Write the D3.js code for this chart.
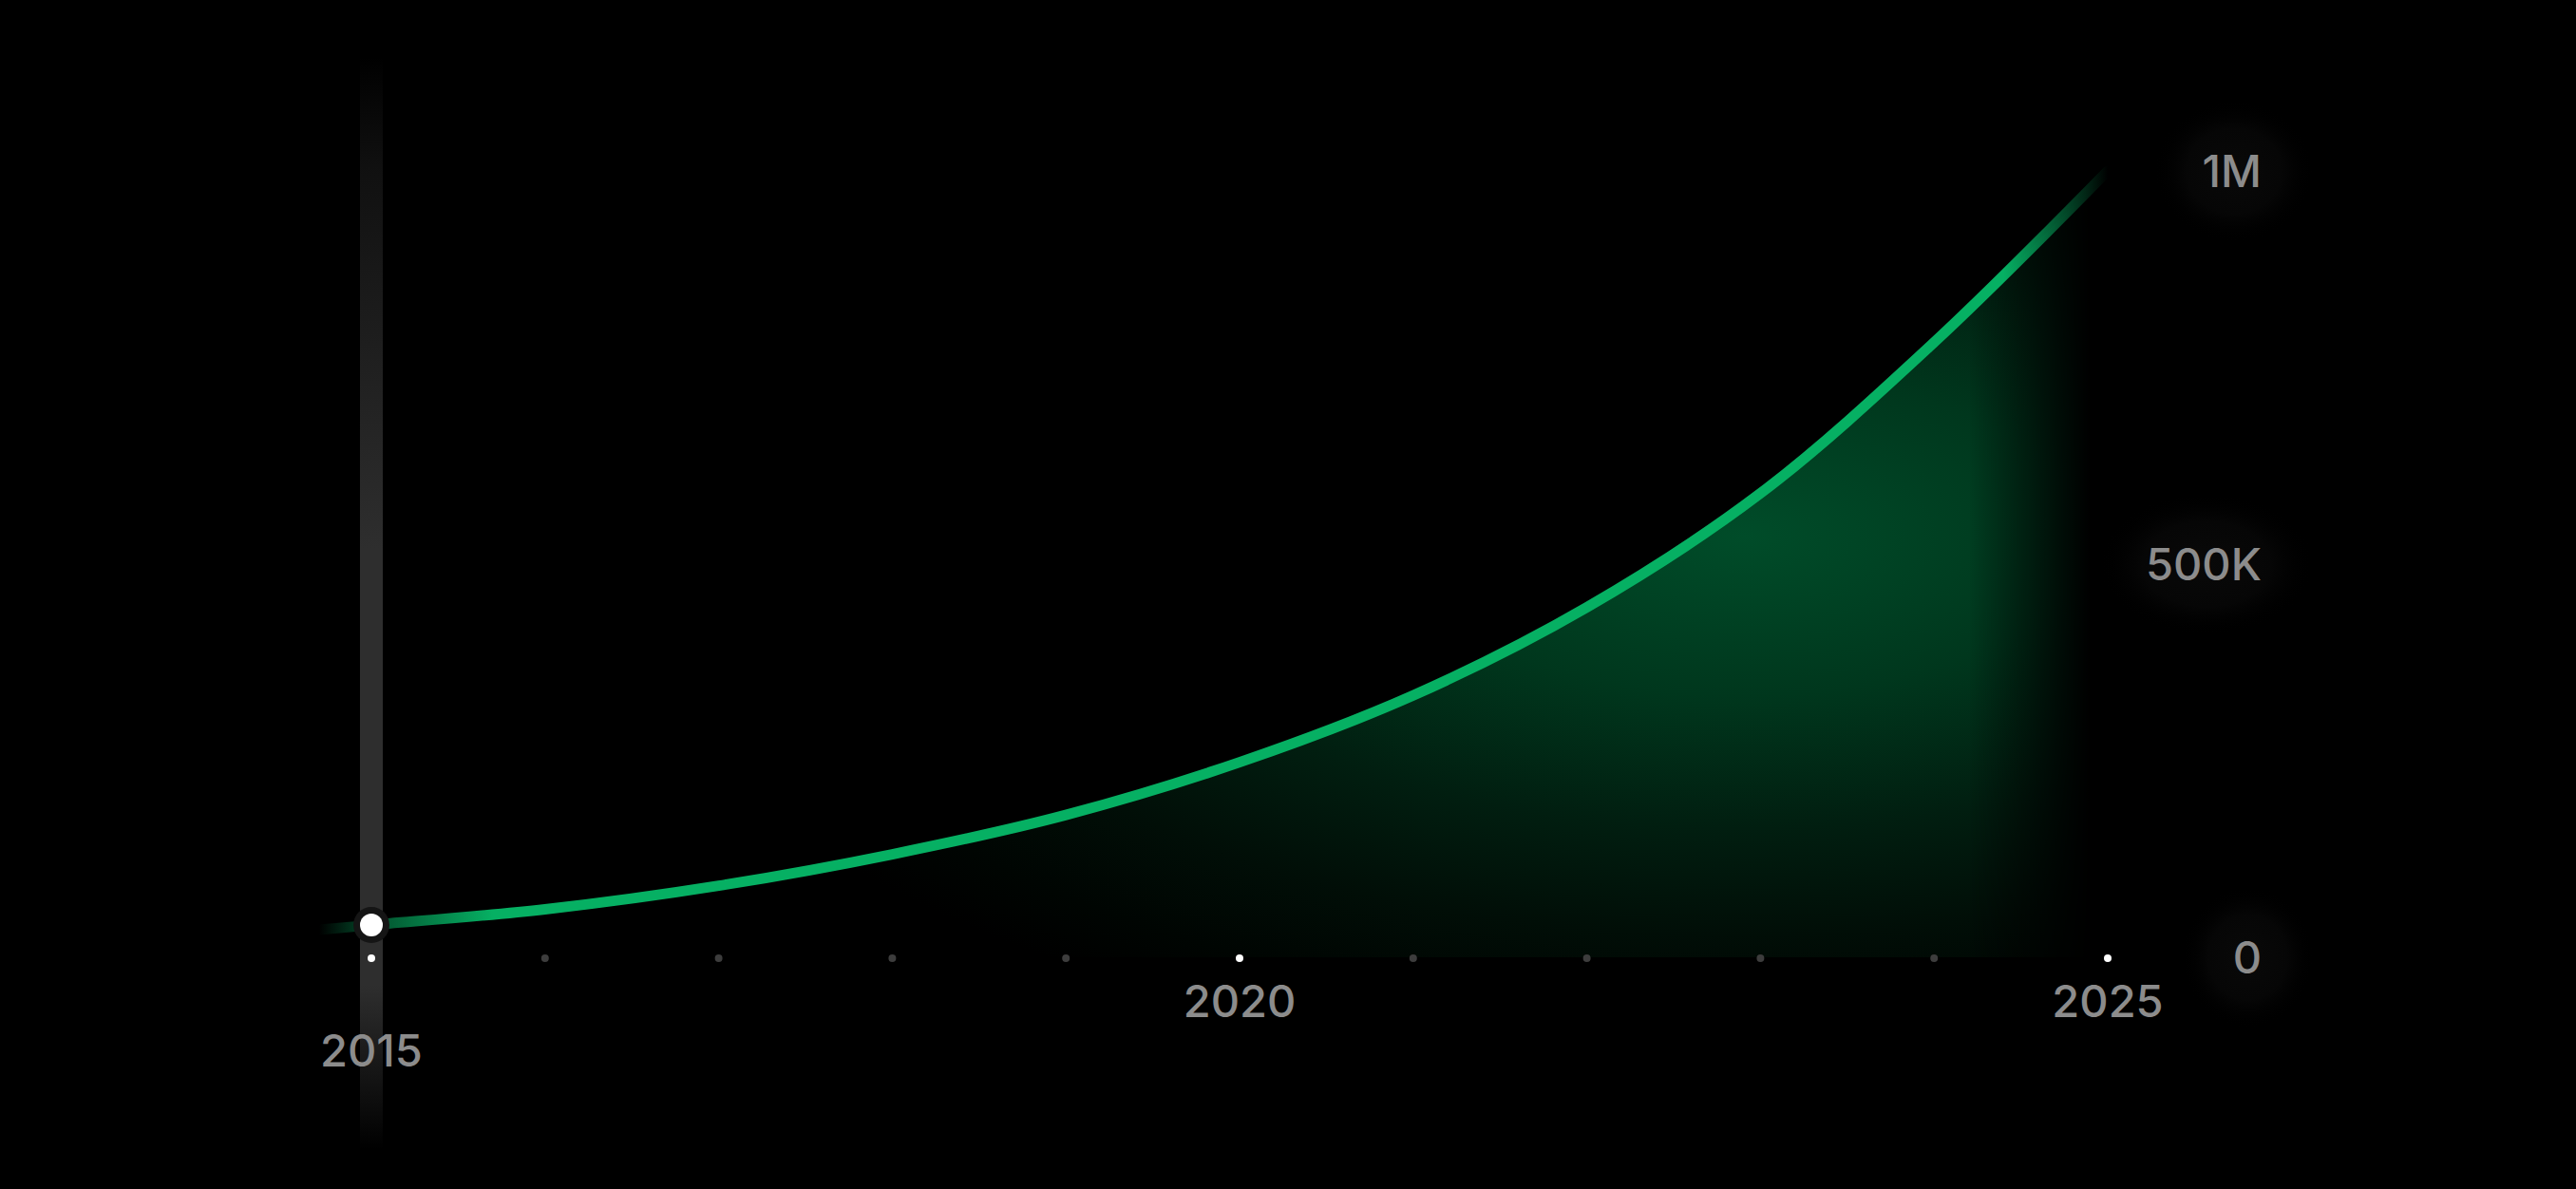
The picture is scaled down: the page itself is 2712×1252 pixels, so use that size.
<!DOCTYPE html>
<html>
<head>
<meta charset="utf-8">
<script src="https://cdn.jsdelivr.net/npm/d3@7"></script>
<style>
  html, body { margin: 0; padding: 0; background: #000; }
  svg { display: block; }
  text { font-family: Inter, "Noto Sans", sans-serif; font-weight: 500; }
</style>
</head>
<body>
<div id="chart"></div>
<script>
// data
const years = [2015, 2016, 2017, 2018, 2019, 2020, 2021, 2022, 2023, 2024, 2025];
const users = [41000, 61000, 91000, 131000, 181000, 248000, 333000, 445000, 590000, 782000, 1000000];
const leadYear = 2014.7, leadValue = 35000;   // line starts a bit before 2015, faded
const labelYears = [2015, 2020, 2025];
const activeYear = 2015;
const yTicks = [0, 500000, 1000000];
const yTickLabels = ["0", "500K", "1M"];

const width = 2712, height = 1252;

const svg = d3.select("#chart").append("svg")
    .attr("width", width)
    .attr("height", height);

svg.append("rect").attr("width", width).attr("height", height).attr("fill", "#000");

const x = d3.scaleLinear().domain([2015, 2025]).range([391, 2219]);
const y = d3.scaleLinear().domain([0, 1000000]).range([1008, 180]);

const points = [{ year: leadYear, value: leadValue }]
    .concat(years.map((d, i) => ({ year: d, value: users[i] })));

const defs = svg.append("defs");

// glow under the curve
const glow = defs.append("radialGradient")
    .attr("id", "areaGlow")
    .attr("gradientUnits", "userSpaceOnUse")
    .attr("cx", 0).attr("cy", 0).attr("r", 1)
    .attr("gradientTransform", "translate(" + x(2022.9) + "," + (y(560000) + 20) + ") scale(1200,560)");
[[0, "#004c29"], [0.3, "#00371d"], [0.55, "#011e10"], [0.75, "#010e07"], [0.9, "#000502"], [1, "#000000"]]
    .forEach(s => glow.append("stop").attr("offset", s[0]).attr("stop-color", s[1]));

// fade the area out on the right
const fadeR = defs.append("linearGradient")
    .attr("id", "fadeRight")
    .attr("gradientUnits", "userSpaceOnUse")
    .attr("x1", x(2024.2)).attr("x2", x(2024.9)).attr("y1", 0).attr("y2", 0);
fadeR.append("stop").attr("offset", 0).attr("stop-color", "#fff");
fadeR.append("stop").attr("offset", 1).attr("stop-color", "#000");
defs.append("mask").attr("id", "areaMask")
    .append("rect").attr("width", width).attr("height", height).attr("fill", "url(#fadeRight)");

// line stroke fades in at the start and out at the top
const x0 = x(leadYear), x1 = x(2025);
const pos = v => (x(v) - x0) / (x1 - x0);
const lineGrad = defs.append("linearGradient")
    .attr("id", "lineGrad")
    .attr("gradientUnits", "userSpaceOnUse")
    .attr("x1", x0).attr("x2", x1).attr("y1", 0).attr("y2", 0);
[[0, 0], [pos(2015), 0.45], [pos(2015.7), 1], [pos(2024.4), 1], [1, 0]]
    .forEach(s => lineGrad.append("stop").attr("offset", s[0]).attr("stop-color", "#06b063").attr("stop-opacity", s[1]));

// vertical highlight bar
const barGrad = defs.append("linearGradient")
    .attr("id", "barGrad")
    .attr("x1", 0).attr("x2", 0).attr("y1", 0).attr("y2", 1);
[[0, 0], [0.1, 0.35], [0.45, 1], [0.85, 1], [1, 0]]
    .forEach(s => barGrad.append("stop").attr("offset", s[0]).attr("stop-color", "#2e2e2e").attr("stop-opacity", s[1]));

// soft blob behind y labels
const blob = defs.append("radialGradient").attr("id", "blob");
blob.append("stop").attr("offset", 0).attr("stop-color", "#090909").attr("stop-opacity", 1);
blob.append("stop").attr("offset", 0.6).attr("stop-color", "#060606").attr("stop-opacity", 1);
blob.append("stop").attr("offset", 1).attr("stop-color", "#000").attr("stop-opacity", 0);

// area
const area = d3.area()
    .x(d => x(d.year))
    .y0(y(0))
    .y1(d => y(d.value))
    .curve(d3.curveCatmullRom.alpha(0.5));

svg.append("path")
    .datum(points)
    .attr("d", area)
    .attr("fill", "url(#areaGlow)")
    .attr("mask", "url(#areaMask)");

// highlight bar for the active year
svg.append("rect")
    .attr("x", x(activeYear) - 12)
    .attr("y", 60)
    .attr("width", 24)
    .attr("height", 1150)
    .attr("fill", "url(#barGrad)");

// line
const line = d3.line()
    .x(d => x(d.year))
    .y(d => y(d.value))
    .curve(d3.curveCatmullRom.alpha(0.5));

svg.append("path")
    .datum(points)
    .attr("d", line)
    .attr("fill", "none")
    .attr("stroke", "url(#lineGrad)")
    .attr("stroke-width", 11)
    .attr("stroke-linecap", "round");

// year dots
svg.append("g").selectAll("circle")
    .data(years)
    .join("circle")
    .attr("cx", d => x(d))
    .attr("cy", y(0) + 1)
    .attr("r", 4)
    .attr("fill", d => labelYears.includes(d) ? "#ffffff" : "#3d3d3d");

// year labels
svg.append("g").selectAll("text")
    .data(labelYears)
    .join("text")
    .attr("x", d => x(d))
    .attr("y", d => d === activeYear ? 1123 : 1071)
    .attr("text-anchor", "middle")
    .attr("fill", "#8c8c8c")
    .attr("font-size", 47)
    .text(d => d);

// active point
const i0 = years.indexOf(activeYear);
svg.append("circle")
    .attr("cx", x(activeYear)).attr("cy", y(users[i0]))
    .attr("r", 19).attr("fill", "#151515");
svg.append("circle")
    .attr("cx", x(activeYear)).attr("cy", y(users[i0]))
    .attr("r", 12).attr("fill", "#ffffff");

// y axis labels
const yg = svg.append("g");
yTicks.forEach((t, i) => {
    const w = yTickLabels[i].length * 29;
    yg.append("ellipse")
        .attr("cx", 2381 - w / 2)
        .attr("cy", y(t))
        .attr("rx", w / 2 + 55)
        .attr("ry", 75)
        .attr("fill", "url(#blob)");
    yg.append("text")
        .attr("x", 2381)
        .attr("y", y(t))
        .attr("dy", "0.36em")
        .attr("text-anchor", "end")
        .attr("fill", "#8c8c8c")
        .attr("font-size", 47)
        .text(yTickLabels[i]);
});
</script>
</body>
</html>
